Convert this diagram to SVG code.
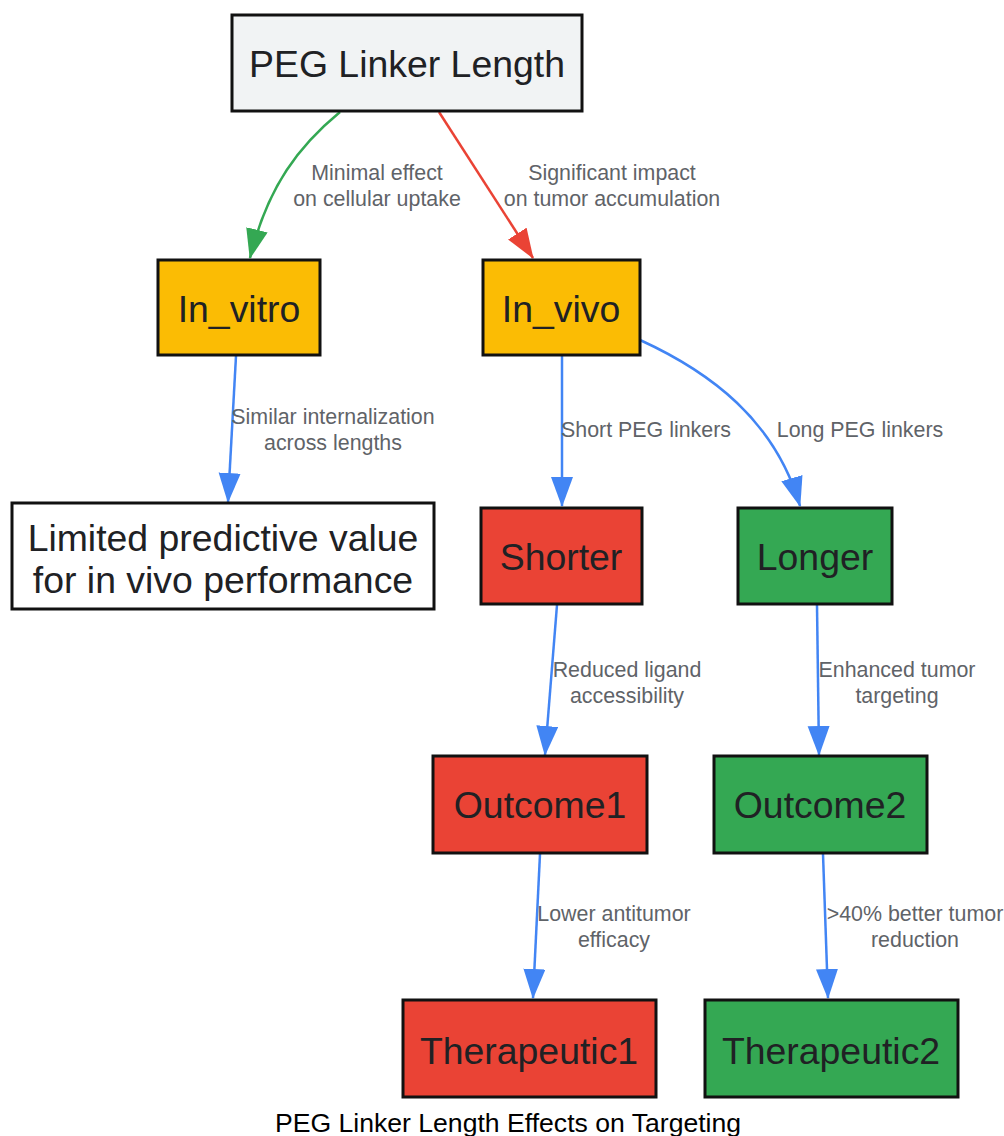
<svg xmlns="http://www.w3.org/2000/svg" width="1004" height="1136" viewBox="0 0 1004 1136">
<style>
.n rect{stroke:#111;stroke-width:3}
.n text{font-family:"Liberation Sans",Arial,sans-serif;font-size:37.4px;fill:#202124;text-anchor:middle}
.e path{fill:none;stroke-width:2.5}
.l{font-family:"Liberation Sans",Arial,sans-serif;font-size:21.4px;fill:#5f6368;text-anchor:middle}
.gray{fill:#f1f3f4}.yel{fill:#fbbc04}.red{fill:#ea4335}.grn{fill:#34a853}.wht{fill:#fff}
</style>
<defs>
<marker id="ab" markerUnits="userSpaceOnUse" markerWidth="32" markerHeight="24" refX="29" refY="11" orient="auto"><path d="M0,0 L30,11 L0,22 z" fill="#4285f4"/></marker>
<marker id="ag" markerUnits="userSpaceOnUse" markerWidth="32" markerHeight="24" refX="29" refY="11" orient="auto"><path d="M0,0 L30,11 L0,22 z" fill="#34a853"/></marker>
<marker id="ar" markerUnits="userSpaceOnUse" markerWidth="32" markerHeight="24" refX="29" refY="11" orient="auto"><path d="M0,0 L30,11 L0,22 z" fill="#ea4335"/></marker>
</defs>
<rect width="1004" height="1136" fill="#fff"/>
<g id="edges" class="e">
<path d="M340,112 C300,145 268,185 250,258" stroke="#34a853" marker-end="url(#ag)"/>
<path d="M439,112 L533,258" stroke="#ea4335" marker-end="url(#ar)"/>
<path d="M236,356 L228,502" stroke="#4285f4" marker-end="url(#ab)"/>
<path d="M562,356 L562,506" stroke="#4285f4" marker-end="url(#ab)"/>
<path d="M640,340 C710,372 775,420 800,506" stroke="#4285f4" marker-end="url(#ab)"/>
<path d="M557,605 L545,755" stroke="#4285f4" marker-end="url(#ab)"/>
<path d="M817,605 L819,755" stroke="#4285f4" marker-end="url(#ab)"/>
<path d="M540,854 L533,998" stroke="#4285f4" marker-end="url(#ab)"/>
<path d="M823,854 L828,998" stroke="#4285f4" marker-end="url(#ab)"/>
</g>
<g id="edge-labels">
<text class="l" x="377" y="180">Minimal effect</text>
<text class="l" x="377" y="206">on cellular uptake</text>
<text class="l" x="612" y="180">Significant impact</text>
<text class="l" x="612" y="206">on tumor accumulation</text>
<text class="l" x="333" y="424">Similar internalization</text>
<text class="l" x="333" y="450">across lengths</text>
<text class="l" x="646" y="437">Short PEG linkers</text>
<text class="l" x="860" y="437">Long PEG linkers</text>
<text class="l" x="627" y="677">Reduced ligand</text>
<text class="l" x="627" y="703">accessibility</text>
<text class="l" x="897" y="677">Enhanced tumor</text>
<text class="l" x="897" y="703">targeting</text>
<text class="l" x="614" y="921">Lower antitumor</text>
<text class="l" x="614" y="947">efficacy</text>
<text class="l" x="915" y="921">&gt;40% better tumor</text>
<text class="l" x="915" y="947">reduction</text>
</g>
<g id="PEG" class="n"><rect class="gray" x="232" y="15" width="350" height="96"/><text x="407" y="77">PEG Linker Length</text></g>
<g id="In_vitro" class="n"><rect class="yel" x="158" y="260" width="162" height="95"/><text x="239" y="322">In_vitro</text></g>
<g id="In_vivo" class="n"><rect class="yel" x="483" y="260" width="157" height="95"/><text x="561" y="322">In_vivo</text></g>
<g id="Limited" class="n"><rect class="wht" x="12" y="503" width="422" height="106"/><text x="223" y="551">Limited predictive value</text><text x="223" y="593">for in vivo performance</text></g>
<g id="Shorter" class="n"><rect class="red" x="481" y="508" width="161" height="96"/><text x="561" y="570">Shorter</text></g>
<g id="Longer" class="n"><rect class="grn" x="738" y="508" width="154" height="96"/><text x="815" y="570">Longer</text></g>
<g id="Outcome1" class="n"><rect class="red" x="433" y="756" width="214" height="97"/><text x="540" y="818">Outcome1</text></g>
<g id="Outcome2" class="n"><rect class="grn" x="714" y="756" width="213" height="97"/><text x="820" y="818">Outcome2</text></g>
<g id="Therapeutic1" class="n"><rect class="red" x="403" y="1000" width="253" height="97"/><text x="529" y="1064">Therapeutic1</text></g>
<g id="Therapeutic2" class="n"><rect class="grn" x="705" y="1000" width="253" height="97"/><text x="831" y="1064">Therapeutic2</text></g>
<text id="title" x="508" y="1132" font-family="'Liberation Sans',Arial,sans-serif" font-size="26.6" fill="#000" text-anchor="middle">PEG Linker Length Effects on Targeting</text>
</svg>
